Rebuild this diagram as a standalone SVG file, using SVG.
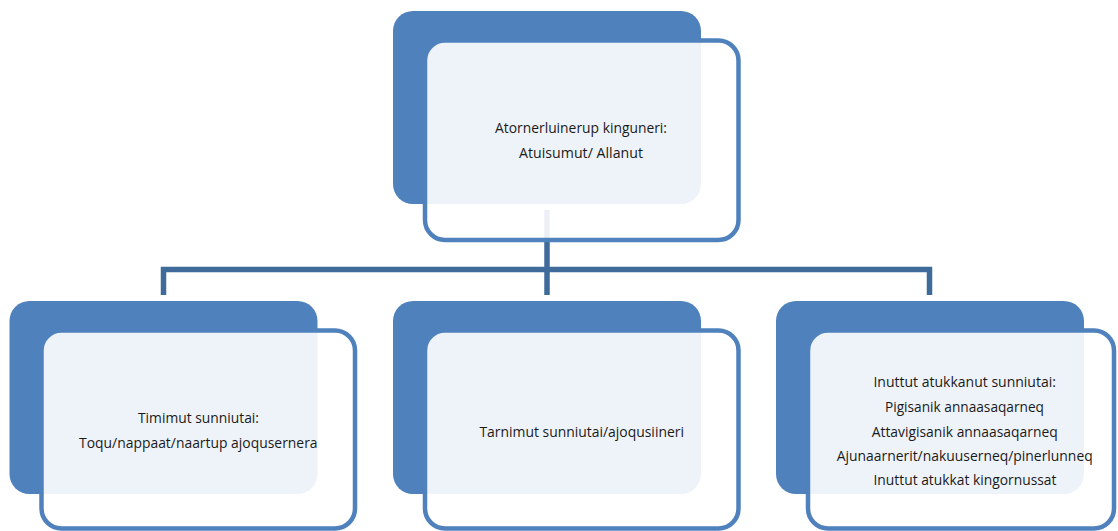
<svg xmlns="http://www.w3.org/2000/svg" width="1118" height="531" viewBox="0 0 1118 531">
  <style>
    .back { fill: #4F81BD; }
    .front { fill: #FFFFFF; fill-opacity: 0.9; stroke: #4F81BD; stroke-width: 4.5; }
    .conn { fill: none; stroke: #3F6B9B; stroke-width: 5.5; stroke-linejoin: miter; stroke-linecap: butt; }
    text { font-family: "Open Sans", "Liberation Sans", sans-serif; font-size: 15px; fill: #1A1A1A; text-anchor: middle; }
  </style>
  <rect width="1118" height="531" fill="#FFFFFF"/>
  <g id="connectors">
    <path class="conn" d="M163.5 295 V269.5 H929.5 V295"/>
    <path class="conn" d="M547 210 V295"/>
  </g>
  <g id="node-top">
    <rect class="back" x="393" y="11" width="308" height="193" rx="20" ry="20"/>
    <rect class="front" x="425" y="40.5" width="313.5" height="199.5" rx="20" ry="20"/>
    <text x="581" y="133.3" textLength="172" lengthAdjust="spacingAndGlyphs">Atornerluinerup kinguneri:</text>
    <text x="581" y="158.3" textLength="124" lengthAdjust="spacingAndGlyphs">Atuisumut/ Allanut</text>
  </g>
  <g id="node-left">
    <rect class="back" x="9.5" y="301" width="308" height="193" rx="20" ry="20"/>
    <rect class="front" x="41.5" y="330.5" width="313.5" height="198" rx="20" ry="20"/>
    <text x="198.5" y="423.3" textLength="121" lengthAdjust="spacingAndGlyphs">Timimut sunniutai:</text>
    <text x="198.3" y="448.3" textLength="238.5" lengthAdjust="spacingAndGlyphs">Toqu/nappaat/naartup ajoqusernera</text>
  </g>
  <g id="node-middle">
    <rect class="back" x="393" y="301" width="308" height="193" rx="20" ry="20"/>
    <rect class="front" x="425" y="330.5" width="313.5" height="198" rx="20" ry="20"/>
    <text x="581.7" y="436.7" textLength="204.5" lengthAdjust="spacingAndGlyphs">Tarnimut sunniutai/ajoqusiineri</text>
  </g>
  <g id="node-right">
    <rect class="back" x="776" y="301" width="308" height="193" rx="20" ry="20"/>
    <rect class="front" x="808" y="330.5" width="306" height="198" rx="20" ry="20"/>
    <text x="964.7" y="387.3" textLength="182.5" lengthAdjust="spacingAndGlyphs">Inuttut atukkanut sunniutai:</text>
    <text x="964.5" y="412" textLength="159" lengthAdjust="spacingAndGlyphs">Pigisanik annaasaqarneq</text>
    <text x="964.7" y="436.7" textLength="186" lengthAdjust="spacingAndGlyphs">Attavigisanik annaasaqarneq</text>
    <text x="964.7" y="460.7" textLength="256" lengthAdjust="spacingAndGlyphs">Ajunaarnerit/nakuuserneq/pinerlunneq</text>
    <text x="965" y="485" textLength="183" lengthAdjust="spacingAndGlyphs">Inuttut atukkat kingornussat</text>
  </g>
</svg>
